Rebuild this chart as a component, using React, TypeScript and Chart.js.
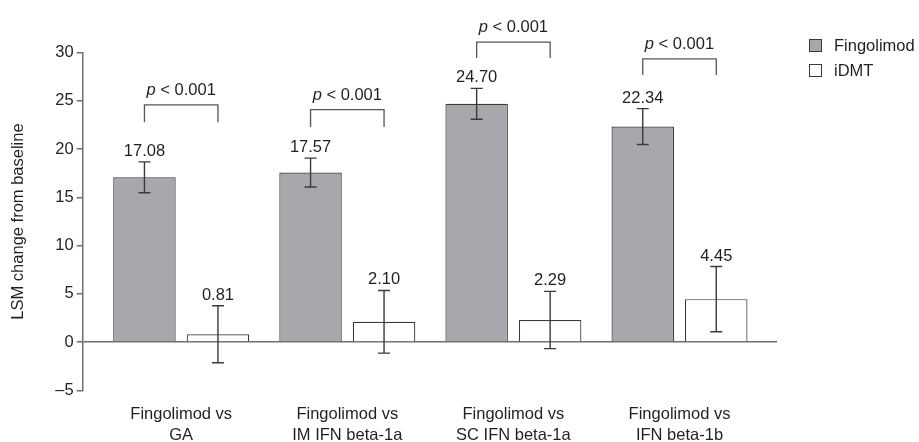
import React, { useEffect, useRef } from 'react';
import { Chart, registerables } from 'chart.js';

Chart.register(...registerables);

// ---- data ----
const categories: string[][] = [
  ['Fingolimod vs', 'GA'],
  ['Fingolimod vs', 'IM IFN beta-1a'],
  ['Fingolimod vs', 'SC IFN beta-1a'],
  ['Fingolimod vs', 'IFN beta-1b'],
];
const seriesNames = ['Fingolimod', 'iDMT'];
const fingolimodValues = [17.08, 17.57, 24.7, 22.34];
const idmtValues = [0.81, 2.1, 2.29, 4.45];
const fingolimodErrors = [1.6, 1.5, 1.6, 1.86];
const idmtErrors = [2.95, 3.25, 2.97, 3.38];
const pValueText = ['< 0.001', '< 0.001', '< 0.001', '< 0.001'];
const bracketTop = [24.6, 24.1, 31.1, 29.35];
const bracketLegBottom = [22.8, 22.3, 29.45, 27.7];
const yMin = -5;
const yMax = 30;
const yStep = 5;

const FONT = '"Liberation Sans", Arial, Helvetica, sans-serif';
const TEXT = '#231f20';
const AXIS = '#6d6e71';
const EDGE = '#3a3a3a';
const FINGO_FILL = '#a7a8ab';

const errorsByDataset = [fingolimodErrors, idmtErrors];

const overlayPlugin = {
  id: 'overlay',
  afterDatasetsDraw(chart: any) {
    const { ctx } = chart;
    const y = chart.scales.y;
    ctx.save();
    // error bars + value labels
    chart.data.datasets.forEach((ds: any, di: number) => {
      const meta = chart.getDatasetMeta(di);
      meta.data.forEach((el: any, i: number) => {
        const v = ds.data[i].y;
        const e = errorsByDataset[di][i];
        const top = y.getPixelForValue(v + e);
        const bot = y.getPixelForValue(v - e);
        const x = el.x;
        ctx.strokeStyle = EDGE;
        ctx.lineWidth = 1.4;
        ctx.beginPath();
        ctx.moveTo(x, top);
        ctx.lineTo(x, bot);
        ctx.moveTo(x - 6, top);
        ctx.lineTo(x + 6, top);
        ctx.moveTo(x - 6, bot);
        ctx.lineTo(x + 6, bot);
        ctx.stroke();
        ctx.fillStyle = TEXT;
        ctx.font = `16.5px ${FONT}`;
        ctx.textAlign = 'center';
        ctx.textBaseline = 'alphabetic';
        ctx.fillText(v.toFixed(2), x, top - 6);
      });
    });
    // significance brackets
    const m0 = chart.getDatasetMeta(0);
    const m1 = chart.getDatasetMeta(1);
    categories.forEach((_, i) => {
      const x0 = m0.data[i].x;
      const x1 = m1.data[i].x;
      const t = y.getPixelForValue(bracketTop[i]);
      const b = y.getPixelForValue(bracketLegBottom[i]);
      ctx.strokeStyle = '#555';
      ctx.lineWidth = 1.3;
      ctx.beginPath();
      ctx.moveTo(x0, b);
      ctx.lineTo(x0, t);
      ctx.lineTo(x1, t);
      ctx.lineTo(x1, b);
      ctx.stroke();
      const cx = (x0 + x1) / 2;
      ctx.textBaseline = 'alphabetic';
      ctx.textAlign = 'left';
      ctx.font = `italic 16.5px ${FONT}`;
      const wp = ctx.measureText('p').width;
      ctx.font = `16.5px ${FONT}`;
      const rest = ' ' + pValueText[i];
      const wr = ctx.measureText(rest).width;
      const sx = cx - (wp + wr) / 2;
      ctx.fillStyle = TEXT;
      ctx.font = `italic 16.5px ${FONT}`;
      ctx.fillText('p', sx, t - 10);
      ctx.font = `16.5px ${FONT}`;
      ctx.fillText(rest, sx + wp, t - 10);
    });
    // legend
    const lx = 809;
    const ly = [39, 64];
    chart.data.datasets.forEach((ds: any, di: number) => {
      ctx.fillStyle = ds.backgroundColor;
      ctx.fillRect(lx, ly[di], 13, 13);
      ctx.strokeStyle = EDGE;
      ctx.lineWidth = 1;
      ctx.strokeRect(lx + 0.5, ly[di] + 0.5, 12, 12);
      ctx.fillStyle = TEXT;
      ctx.font = `16.5px ${FONT}`;
      ctx.textAlign = 'left';
      ctx.textBaseline = 'middle';
      ctx.fillText(ds.label, lx + 25, ly[di] + 7);
    });
    ctx.restore();
  },
};

export default function App() {
  const ref = useRef<HTMLCanvasElement | null>(null);
  useEffect(() => {
    if (!ref.current) return;
    const chart = new Chart(ref.current, {
      type: 'bar',
      data: {
        datasets: [
          {
            label: seriesNames[0],
            data: fingolimodValues.map((v, i) => ({ x: i, y: v })),
            backgroundColor: FINGO_FILL,
            borderColor: EDGE,
            borderWidth: 1.2,
          },
          {
            label: seriesNames[1],
            data: idmtValues.map((v, i) => ({ x: i, y: v })),
            backgroundColor: '#ffffff',
            borderColor: EDGE,
            borderWidth: 1.2,
          },
        ],
      },
      options: {
        responsive: false,
        animation: false,
        devicePixelRatio: 1,
        categoryPercentage: 0.885,
        barPercentage: 0.85,
        layout: { padding: { left: 0, right: 142, top: 52.7, bottom: 0 } },
        plugins: { legend: { display: false }, tooltip: { enabled: false } },
        scales: {
          x: {
            type: 'linear',
            offset: false,
            min: -0.593,
            max: 3.587,
            grid: { display: false, drawTicks: false },
            border: { display: false },
            afterBuildTicks: (s: any) => {
              s.ticks = categories.map((_, i) => ({ value: i }));
            },
            afterFit: (s: any) => {
              s.height = 51.7;
            },
            ticks: {
              autoSkip: false,
              maxRotation: 0,
              padding: 14,
              color: TEXT,
              font: { family: FONT, size: 16.5, lineHeight: 1.27 },
              callback: (v: any) => categories[v] ?? '',
            },
          },
          y: {
            type: 'linear',
            min: yMin,
            max: yMax,
            afterFit: (s: any) => {
              s.width = 82.7;
            },
            ticks: {
              stepSize: yStep,
              padding: 3,
              color: TEXT,
              font: { family: FONT, size: 16.5 },
              callback: (v: any) => (v < 0 ? '\u2013' + Math.abs(v) : String(v)),
            },
            grid: {
              drawTicks: true,
              tickLength: 6,
              tickColor: AXIS,
              lineWidth: 1.5,
              color: (c: any) => (c.tick && c.tick.value === 0 ? AXIS : 'rgba(0,0,0,0)'),
            },
            border: { display: true, color: AXIS, width: 1.5 },
            title: {
              display: true,
              text: 'LSM change from baseline',
              color: TEXT,
              font: { family: FONT, size: 16.5 },
              padding: { top: 9, bottom: 0 },
            },
          },
        },
      },
      plugins: [overlayPlugin],
    } as any);
    return () => chart.destroy();
  }, []);
  return (
    <div style={{ position: 'fixed', left: 0, top: 0, width: 919, height: 442, background: '#fff' }}>
      <canvas ref={ref} width={919} height={442} style={{ width: 919, height: 442, display: 'block' }} />
    </div>
  );
}
